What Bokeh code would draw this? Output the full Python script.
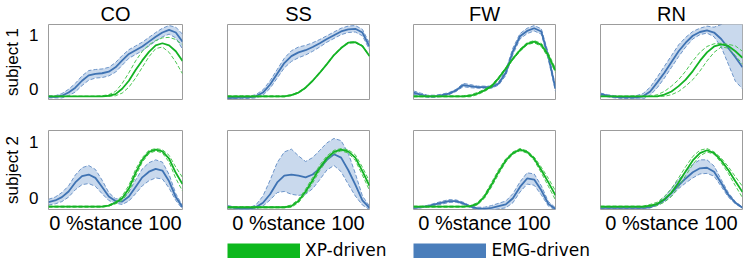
from bokeh.plotting import figure
from bokeh.layouts import column, row
from bokeh.models import FixedTicker, Range1d, Legend, LegendItem
from bokeh.embed import file_html
from bokeh.resources import INLINE

# ---------------- data ----------------
STANCE = [0, 5, 10, 15, 20, 25, 30, 35, 40, 45, 50, 55, 60, 65, 70, 75, 80, 85, 90, 95, 100]
TASKS = ["CO", "SS", "FW", "RN"]
SUBJECTS = ["subject 1", "subject 2"]
Y_TICKS = [0, 1]
X_LABEL = "0 %stance 100"
SERIES = ["XP-driven", "EMG-driven"]

# subject 1
co1_xp = [-0.14, -0.14, -0.14, -0.14, -0.14, -0.14, -0.14, -0.14, -0.14, -0.13, -0.10, 0.00, 0.15, 0.35, 0.53, 0.69, 0.81, 0.85, 0.81, 0.70, 0.52]
co1_xp_hi = [-0.14, -0.14, -0.14, -0.14, -0.14, -0.14, -0.14, -0.14, -0.13, -0.11, -0.05, 0.10, 0.30, 0.52, 0.70, 0.82, 0.90, 0.95, 0.96, 0.92, 0.82]
co1_xp_lo = [-0.14, -0.14, -0.14, -0.14, -0.14, -0.14, -0.14, -0.14, -0.14, -0.14, -0.13, -0.08, 0.03, 0.20, 0.40, 0.60, 0.75, 0.78, 0.68, 0.50, 0.28]
co1_emg = [-0.15, -0.15, -0.13, -0.07, 0.02, 0.15, 0.25, 0.28, 0.29, 0.32, 0.40, 0.53, 0.65, 0.72, 0.79, 0.88, 0.97, 1.05, 1.10, 1.05, 0.88]
co1_emg_hi = [-0.13, -0.13, -0.09, -0.01, 0.10, 0.24, 0.34, 0.36, 0.37, 0.40, 0.49, 0.62, 0.73, 0.80, 0.87, 0.96, 1.05, 1.13, 1.18, 1.15, 1.02]
co1_emg_lo = [-0.17, -0.17, -0.17, -0.13, -0.06, 0.06, 0.16, 0.20, 0.21, 0.24, 0.31, 0.44, 0.57, 0.64, 0.71, 0.80, 0.89, 0.97, 1.02, 0.95, 0.74]

ss1_xp = [-0.14, -0.14, -0.14, -0.14, -0.14, -0.14, -0.14, -0.14, -0.14, -0.12, -0.07, 0.02, 0.15, 0.30, 0.46, 0.63, 0.76, 0.86, 0.87, 0.80, 0.61]
ss1_xp_hi = [-0.13, -0.13, -0.13, -0.13, -0.13, -0.13, -0.13, -0.13, -0.13, -0.11, -0.06, 0.03, 0.16, 0.31, 0.47, 0.64, 0.77, 0.87, 0.88, 0.81, 0.62]
ss1_xp_lo = [-0.15, -0.15, -0.15, -0.15, -0.15, -0.15, -0.15, -0.15, -0.15, -0.13, -0.08, 0.01, 0.14, 0.29, 0.45, 0.62, 0.75, 0.85, 0.86, 0.79, 0.60]
ss1_emg = [-0.17, -0.17, -0.16, -0.16, -0.14, -0.07, 0.08, 0.28, 0.48, 0.61, 0.68, 0.72, 0.78, 0.85, 0.93, 1.00, 1.07, 1.11, 1.12, 1.05, 0.79]
ss1_emg_hi = [-0.16, -0.16, -0.14, -0.14, -0.11, -0.02, 0.15, 0.36, 0.57, 0.71, 0.78, 0.81, 0.86, 0.92, 0.99, 1.06, 1.13, 1.17, 1.18, 1.11, 0.85]
ss1_emg_lo = [-0.18, -0.18, -0.18, -0.18, -0.17, -0.12, 0.01, 0.20, 0.39, 0.51, 0.58, 0.63, 0.70, 0.78, 0.87, 0.94, 1.01, 1.05, 1.06, 0.99, 0.73]

fw1_xp = [-0.14, -0.14, -0.14, -0.14, -0.14, -0.14, -0.14, -0.14, -0.13, -0.09, -0.03, 0.05, 0.20, 0.38, 0.56, 0.72, 0.84, 0.88, 0.82, 0.62, 0.34]
fw1_xp_hi = [-0.13, -0.13, -0.13, -0.13, -0.13, -0.13, -0.13, -0.13, -0.11, -0.07, -0.01, 0.07, 0.22, 0.40, 0.58, 0.74, 0.86, 0.90, 0.85, 0.66, 0.38]
fw1_xp_lo = [-0.15, -0.15, -0.15, -0.15, -0.15, -0.15, -0.15, -0.15, -0.15, -0.11, -0.05, 0.03, 0.18, 0.36, 0.54, 0.70, 0.82, 0.86, 0.79, 0.58, 0.30]
fw1_emg = [-0.07, -0.11, -0.14, -0.14, -0.12, -0.09, -0.03, 0.07, 0.05, 0.03, 0.03, 0.03, 0.10, 0.30, 0.70, 0.98, 1.08, 1.13, 1.07, 0.60, 0.00]
fw1_emg_hi = [-0.04, -0.08, -0.12, -0.12, -0.10, -0.07, -0.01, 0.10, 0.08, 0.05, 0.05, 0.05, 0.13, 0.35, 0.76, 1.03, 1.13, 1.18, 1.12, 0.66, 0.05]
fw1_emg_lo = [-0.10, -0.14, -0.16, -0.16, -0.14, -0.11, -0.05, 0.04, 0.02, 0.01, 0.01, 0.01, 0.07, 0.25, 0.64, 0.93, 1.03, 1.08, 1.02, 0.54, -0.05]

rn1_xp = [-0.14, -0.14, -0.14, -0.14, -0.14, -0.14, -0.14, -0.14, -0.14, -0.11, -0.05, 0.05, 0.17, 0.33, 0.52, 0.68, 0.79, 0.83, 0.80, 0.70, 0.58]
rn1_xp_hi = [-0.14, -0.14, -0.14, -0.14, -0.14, -0.14, -0.14, -0.14, -0.11, -0.05, 0.05, 0.17, 0.33, 0.52, 0.68, 0.79, 0.84, 0.85, 0.83, 0.80, 0.70]
rn1_xp_lo = [-0.14, -0.14, -0.14, -0.14, -0.14, -0.14, -0.14, -0.14, -0.14, -0.14, -0.11, -0.05, 0.05, 0.17, 0.33, 0.52, 0.68, 0.78, 0.76, 0.62, 0.46]
rn1_emg = [-0.10, -0.13, -0.15, -0.16, -0.16, -0.16, -0.14, -0.05, 0.12, 0.30, 0.50, 0.70, 0.86, 0.99, 1.06, 1.09, 1.05, 0.93, 0.76, 0.59, 0.40]
rn1_emg_hi = [-0.08, -0.11, -0.13, -0.14, -0.14, -0.13, -0.09, 0.03, 0.22, 0.42, 0.62, 0.82, 0.96, 1.07, 1.13, 1.17, 1.15, 1.20, 1.25, 1.25, 1.25]
rn1_emg_lo = [-0.12, -0.15, -0.17, -0.18, -0.18, -0.19, -0.19, -0.12, 0.02, 0.20, 0.40, 0.60, 0.78, 0.93, 1.01, 1.04, 0.97, 0.78, 0.46, 0.14, 0.00]

# subject 2
co2_xp = [-0.15, -0.15, -0.15, -0.15, -0.15, -0.15, -0.15, -0.15, -0.15, -0.13, -0.08, 0.00, 0.17, 0.45, 0.68, 0.82, 0.86, 0.83, 0.70, 0.45, 0.25]
co2_xp_hi = [-0.14, -0.14, -0.14, -0.14, -0.14, -0.14, -0.14, -0.14, -0.14, -0.12, -0.06, 0.04, 0.23, 0.51, 0.72, 0.85, 0.88, 0.86, 0.76, 0.55, 0.37]
co2_xp_lo = [-0.16, -0.16, -0.16, -0.16, -0.16, -0.16, -0.16, -0.16, -0.16, -0.14, -0.10, -0.04, 0.11, 0.39, 0.64, 0.79, 0.84, 0.80, 0.64, 0.35, 0.13]
co2_emg = [-0.07, -0.04, 0.02, 0.12, 0.28, 0.39, 0.42, 0.36, 0.20, 0.03, -0.05, -0.06, 0.03, 0.20, 0.37, 0.47, 0.52, 0.49, 0.30, 0.02, -0.16]
co2_emg_hi = [-0.02, 0.02, 0.10, 0.22, 0.41, 0.54, 0.58, 0.51, 0.32, 0.10, -0.01, -0.01, 0.11, 0.32, 0.52, 0.63, 0.68, 0.64, 0.42, 0.08, -0.13]
co2_emg_lo = [-0.12, -0.10, -0.06, 0.02, 0.15, 0.24, 0.26, 0.21, 0.08, -0.04, -0.09, -0.11, -0.05, 0.08, 0.22, 0.31, 0.36, 0.34, 0.18, -0.04, -0.19]

ss2_xp = [-0.16, -0.16, -0.16, -0.16, -0.16, -0.16, -0.16, -0.16, -0.16, -0.14, -0.05, 0.12, 0.32, 0.54, 0.71, 0.82, 0.86, 0.83, 0.72, 0.48, 0.22]
ss2_xp_hi = [-0.15, -0.15, -0.15, -0.15, -0.15, -0.15, -0.15, -0.15, -0.15, -0.12, -0.02, 0.16, 0.37, 0.59, 0.75, 0.85, 0.88, 0.86, 0.77, 0.55, 0.30]
ss2_xp_lo = [-0.17, -0.17, -0.17, -0.17, -0.17, -0.17, -0.17, -0.17, -0.17, -0.16, -0.08, 0.08, 0.27, 0.49, 0.67, 0.79, 0.84, 0.80, 0.67, 0.41, 0.14]
ss2_emg = [-0.15, -0.17, -0.19, -0.19, -0.16, -0.08, 0.07, 0.28, 0.40, 0.42, 0.40, 0.37, 0.42, 0.53, 0.68, 0.78, 0.72, 0.50, 0.24, -0.04, -0.17]
ss2_emg_hi = [-0.13, -0.15, -0.17, -0.17, -0.12, 0.04, 0.32, 0.63, 0.82, 0.87, 0.75, 0.65, 0.72, 0.85, 0.98, 1.06, 1.02, 0.80, 0.44, 0.04, -0.14]
ss2_emg_lo = [-0.17, -0.19, -0.21, -0.21, -0.19, -0.14, -0.03, 0.10, 0.12, 0.07, 0.05, 0.07, 0.17, 0.33, 0.50, 0.58, 0.47, 0.25, 0.04, -0.12, -0.20]

fw2_xp = [-0.15, -0.15, -0.15, -0.15, -0.15, -0.15, -0.15, -0.15, -0.14, -0.10, 0.03, 0.24, 0.47, 0.67, 0.80, 0.86, 0.82, 0.70, 0.50, 0.28, 0.05]
fw2_xp_hi = [-0.14, -0.14, -0.14, -0.14, -0.14, -0.14, -0.14, -0.14, -0.13, -0.08, 0.06, 0.28, 0.51, 0.70, 0.82, 0.88, 0.84, 0.73, 0.55, 0.35, 0.13]
fw2_xp_lo = [-0.16, -0.16, -0.16, -0.16, -0.16, -0.16, -0.16, -0.16, -0.15, -0.12, 0.00, 0.20, 0.43, 0.64, 0.78, 0.84, 0.80, 0.67, 0.45, 0.21, -0.03]
fw2_emg = [-0.17, -0.16, -0.14, -0.11, -0.08, -0.05, -0.05, -0.09, -0.15, -0.18, -0.19, -0.17, -0.14, -0.11, 0.00, 0.20, 0.35, 0.33, 0.14, -0.10, -0.19]
fw2_emg_hi = [-0.16, -0.15, -0.125, -0.09, -0.055, -0.025, -0.03, -0.07, -0.135, -0.16, -0.16, -0.13, -0.09, -0.05, 0.08, 0.29, 0.45, 0.43, 0.22, -0.06, -0.17]
fw2_emg_lo = [-0.18, -0.17, -0.155, -0.13, -0.105, -0.075, -0.07, -0.11, -0.165, -0.20, -0.22, -0.21, -0.19, -0.17, -0.08, 0.11, 0.25, 0.23, 0.06, -0.14, -0.21]

rn2_xp = [-0.15, -0.15, -0.15, -0.15, -0.15, -0.15, -0.15, -0.13, -0.10, -0.02, 0.10, 0.28, 0.48, 0.67, 0.80, 0.85, 0.80, 0.67, 0.50, 0.30, 0.11]
rn2_xp_hi = [-0.14, -0.14, -0.14, -0.14, -0.14, -0.14, -0.14, -0.11, -0.07, 0.03, 0.17, 0.36, 0.56, 0.74, 0.85, 0.88, 0.82, 0.71, 0.56, 0.38, 0.21]
rn2_xp_lo = [-0.16, -0.16, -0.16, -0.16, -0.16, -0.16, -0.16, -0.15, -0.13, -0.07, 0.03, 0.20, 0.40, 0.60, 0.75, 0.82, 0.78, 0.63, 0.44, 0.22, 0.01]
rn2_emg = [-0.17, -0.17, -0.17, -0.17, -0.17, -0.17, -0.17, -0.16, -0.11, -0.03, 0.09, 0.23, 0.35, 0.46, 0.53, 0.54, 0.47, 0.27, 0.06, -0.08, -0.17]
rn2_emg_hi = [-0.16, -0.16, -0.16, -0.16, -0.16, -0.16, -0.16, -0.15, -0.09, 0.02, 0.17, 0.33, 0.47, 0.60, 0.68, 0.68, 0.57, 0.33, 0.10, -0.06, -0.16]
rn2_emg_lo = [-0.18, -0.18, -0.18, -0.18, -0.18, -0.18, -0.18, -0.17, -0.13, -0.06, 0.04, 0.17, 0.27, 0.36, 0.43, 0.44, 0.39, 0.21, 0.02, -0.10, -0.18]

PANEL_DATA = [
    [(co1_xp, co1_xp_lo, co1_xp_hi, co1_emg, co1_emg_lo, co1_emg_hi),
     (ss1_xp, ss1_xp_lo, ss1_xp_hi, ss1_emg, ss1_emg_lo, ss1_emg_hi),
     (fw1_xp, fw1_xp_lo, fw1_xp_hi, fw1_emg, fw1_emg_lo, fw1_emg_hi),
     (rn1_xp, rn1_xp_lo, rn1_xp_hi, rn1_emg, rn1_emg_lo, rn1_emg_hi)],
    [(co2_xp, co2_xp_lo, co2_xp_hi, co2_emg, co2_emg_lo, co2_emg_hi),
     (ss2_xp, ss2_xp_lo, ss2_xp_hi, ss2_emg, ss2_emg_lo, ss2_emg_hi),
     (fw2_xp, fw2_xp_lo, fw2_xp_hi, fw2_emg, fw2_emg_lo, fw2_emg_hi),
     (rn2_xp, rn2_xp_lo, rn2_xp_hi, rn2_emg, rn2_emg_lo, rn2_emg_hi)],
]

# ---------------- style ----------------
GREEN = "#14b324"
GREEN_DASH = "#4cc653"
BLUE = "#3f73b3"
BLUE_DASH = "#6d95c9"
BAND = "#c9d9ed"
LEGEND_GREEN = "#0db81d"
LEGEND_BLUE = "#4a7ebb"
FONT = "Liberation Sans"

COL_W = [183, 187, 186, 188]
COL_L = [40, 44, 43, 44]
COL_R = [1, 1, 1, 2]
ROW_H = [114, 125]
ROW_T = [20, 16]
ROW_B = [15, 30]


def make_panel(r, c):
    xp, xp_lo, xp_hi, emg, emg_lo, emg_hi = PANEL_DATA[r][c]
    p = figure(width=COL_W[c], height=ROW_H[r],
               x_range=Range1d(0, 100), y_range=Range1d(-0.2, 1.2),
               output_backend="svg", toolbar_location=None,
               title=TASKS[c] if r == 0 else None,
               min_border_left=COL_L[c], min_border_right=COL_R[c],
               min_border_top=ROW_T[r], min_border_bottom=ROW_B[r])
    p.grid.visible = False
    p.outline_line_color = "#9c9c9c"
    p.outline_line_width = 1
    p.background_fill_color = "white"
    if r == 0:
        p.title.align = "center"
        p.title.text_font = FONT
        p.title.text_font_size = "20px"
        p.title.text_font_style = "normal"
        p.title.text_color = "black"
        p.title.standoff = 0
        p.title.offset = 0

    # EMG-driven band and mean
    p.varea(x=STANCE, y1=emg_lo, y2=emg_hi, fill_color=BAND, fill_alpha=1.0)
    p.line(STANCE, emg_lo, line_color=BLUE_DASH, line_width=1, line_dash="4 2")
    p.line(STANCE, emg_hi, line_color=BLUE_DASH, line_width=1, line_dash="4 2")
    p.line(STANCE, emg, line_color=BLUE, line_width=1.8)
    # XP-driven band and mean
    p.line(STANCE, xp_lo, line_color=GREEN_DASH, line_width=1, line_dash="4 2")
    p.line(STANCE, xp_hi, line_color=GREEN_DASH, line_width=1, line_dash="4 2")
    p.line(STANCE, xp, line_color=GREEN, line_width=1.8)

    # axes
    if c == 0:
        ya = p.yaxis[0]
        ya.ticker = FixedTicker(ticks=Y_TICKS)
        ya.major_tick_line_color = None
        ya.minor_tick_line_color = None
        ya.axis_line_color = None
        ya.major_label_text_font = FONT
        ya.major_label_text_font_size = "17px"
        ya.major_label_text_color = "black"
        ya.major_label_standoff = 4
        ya.axis_label = SUBJECTS[r]
        ya.axis_label_text_font = FONT
        ya.axis_label_text_font_size = "17px"
        ya.axis_label_text_font_style = "normal"
        ya.axis_label_text_color = "black"
        ya.axis_label_standoff = 4
    else:
        p.yaxis.visible = False
    if r == 1:
        xa = p.xaxis[0]
        xa.ticker = FixedTicker(ticks=[])
        xa.major_tick_line_color = None
        xa.minor_tick_line_color = None
        xa.axis_line_color = None
        xa.major_label_standoff = 0
        xa.axis_label = X_LABEL
        xa.axis_label_text_font = FONT
        xa.axis_label_text_font_size = "20px"
        xa.axis_label_text_font_style = "normal"
        xa.axis_label_text_color = "black"
        xa.axis_label_standoff = 2
    else:
        p.xaxis.visible = False
    return p


rows = []
for r in range(2):
    rows.append(row(*[make_panel(r, c) for c in range(4)]))

# legend strip
lf = figure(width=744, height=21, x_range=Range1d(0, 1), y_range=Range1d(0, 1),
            output_backend="svg", toolbar_location=None,
            min_border_left=0, min_border_right=0, min_border_top=0, min_border_bottom=0)
lf.axis.visible = False
lf.grid.visible = False
lf.outline_line_color = None
g = lf.line([-2, -1], [-2, -2], line_color=LEGEND_GREEN, line_width=15)
b = lf.line([-2, -1], [-2, -2], line_color=LEGEND_BLUE, line_width=15)
leg = Legend(items=[LegendItem(label=SERIES[0], renderers=[g]),
                    LegendItem(label=SERIES[1], renderers=[b])],
             orientation="horizontal", location=(227, 0),
             glyph_width=73, glyph_height=15, label_standoff=5, spacing=27,
             padding=0, margin=0, border_line_color=None, background_fill_alpha=0,
             label_text_font="DejaVu Sans", label_text_font_size="17px",
             label_text_color="black")
lf.add_layout(leg)

layout = column(rows[0], rows[1], lf)
open("out.html", "w").write(file_html(layout, INLINE))
